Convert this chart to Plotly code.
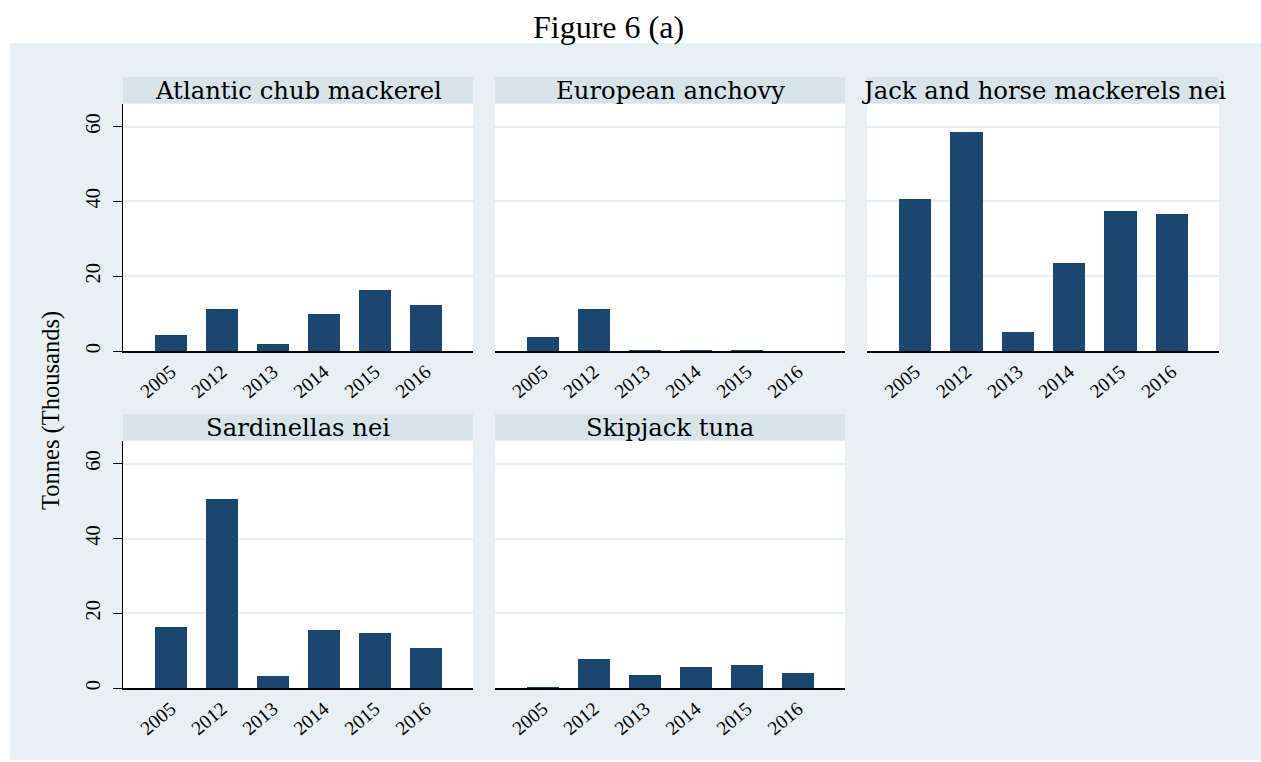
import plotly.graph_objects as go

# Catch by species and year, thousand tonnes
years = ["2005", "2012", "2013", "2014", "2015", "2016"]
species = [
    "Atlantic chub mackerel",
    "European anchovy",
    "Jack and horse mackerels nei",
    "Sardinellas nei",
    "Skipjack tuna",
]
atlantic_chub_mackerel = [4.5, 11.2, 1.9, 10.1, 16.5, 12.5]
european_anchovy = [3.8, 11.2, 0.3, 0.3, 0.3, 0.0]
jack_horse_mackerels = [40.8, 58.7, 5.3, 23.7, 37.6, 36.8]
sardinellas = [16.3, 50.7, 3.2, 15.5, 14.9, 10.9]
skipjack_tuna = [0.3, 7.9, 3.5, 5.7, 6.3, 4.1]
series = [atlantic_chub_mackerel, european_anchovy, jack_horse_mackerels,
          sardinellas, skipjack_tuna]
y_ticks = [0, 20, 40, 60]

W, H = 1261, 762
BAR = "#1B466F"
BG = "#E8F0F3"
STRIP = "#D8E4EA"
GRID = "#E6EFF2"
SERIF = "Liberation Serif, Times New Roman, Tinos, serif"
STRIP_FONT = "DejaVu Serif"


def fx(px):
    return px / W


def fy(py):
    return 1 - py / H


# panel geometry in pixels: (left, right) columns and (top, bottom) rows
cols = [(123, 473), (495, 845), (867, 1219)]
rows = [(104, 352), (442, 690)]
strip_h = 27

fig = go.Figure()
shapes = []
annotations = []
layout = {}

for i, (name, vals) in enumerate(zip(species, series)):
    r, c = divmod(i, 3)
    x0, x1 = cols[c]
    y0, y1 = rows[r]
    n = i + 1
    xa = "x" if n == 1 else f"x{n}"
    ya = "y" if n == 1 else f"y{n}"
    fig.add_trace(go.Bar(
        x=years, y=vals, xaxis=xa, yaxis=ya,
        marker=dict(color=BAR, line=dict(width=0)),
        width=0.63, showlegend=False,
    ))
    layout["xaxis" if n == 1 else f"xaxis{n}"] = dict(
        domain=[fx(x0), fx(x1)], anchor=ya, type="category",
        range=[-0.94, 5.92], tickangle=-40, ticks="",
        showline=True, linecolor="black", linewidth=1.5,
        showgrid=False, zeroline=False,
        tickfont=dict(family=SERIF, size=19.5, color="black"),
    )
    layout["yaxis" if n == 1 else f"yaxis{n}"] = dict(
        domain=[fy(y1), fy(y0)], anchor=xa, range=[0, 66.1],
        tickvals=y_ticks, showgrid=True, gridcolor=GRID, gridwidth=1.5,
        zeroline=False,
        showline=(c == 0), linecolor="black", linewidth=1,
        ticks="outside" if c == 0 else "", ticklen=9, tickcolor="black",
        showticklabels=(c == 0), tickangle=-90, ticklabelstandoff=5,
        tickfont=dict(family=SERIF, size=20.5, color="black"),
    )
    # strip header with species name
    shapes.append(dict(type="rect", xref="paper", yref="paper", layer="below",
                       x0=fx(x0), x1=fx(x1), y0=fy(y0), y1=fy(y0 - strip_h),
                       fillcolor=STRIP, line=dict(width=0)))
    shapes.append(dict(type="rect", xref="paper", yref="paper", layer="below",
                       x0=fx(x0), x1=fx(x1), y0=fy(y1), y1=fy(y0),
                       fillcolor="white", line=dict(width=0)))
    annotations.append(dict(
        text=name, xref="paper", yref="paper", showarrow=False,
        x=fx((x0 + x1) / 2), y=fy(y0 - strip_h / 2),
        xanchor="center", yanchor="middle",
        font=dict(family=STRIP_FONT, size=24.3, color="black"),
    ))

# outer graph region
shapes.insert(0, dict(type="rect", xref="paper", yref="paper", layer="below",
                      x0=fx(10), x1=1, y0=0, y1=fy(43),
                      fillcolor=BG, line=dict(width=0)))

annotations.append(dict(
    text="Figure 6 (a)", xref="paper", yref="paper", showarrow=False,
    x=fx(608), y=fy(27), xanchor="center", yanchor="middle",
    font=dict(family=SERIF, size=32, color="black"),
))
annotations.append(dict(
    text="Tonnes (Thousands)", xref="paper", yref="paper", showarrow=False,
    x=fx(51), y=fy(412), xanchor="center", yanchor="middle", textangle=-90,
    font=dict(family=SERIF, size=24.5, color="black"),
))

fig.update_layout(
    width=W, height=H, margin=dict(l=0, r=0, t=0, b=0),
    paper_bgcolor="white", plot_bgcolor="rgba(0,0,0,0)",
    shapes=shapes, annotations=annotations, bargap=0,
    **layout,
)

fig.write_html("out.html")
